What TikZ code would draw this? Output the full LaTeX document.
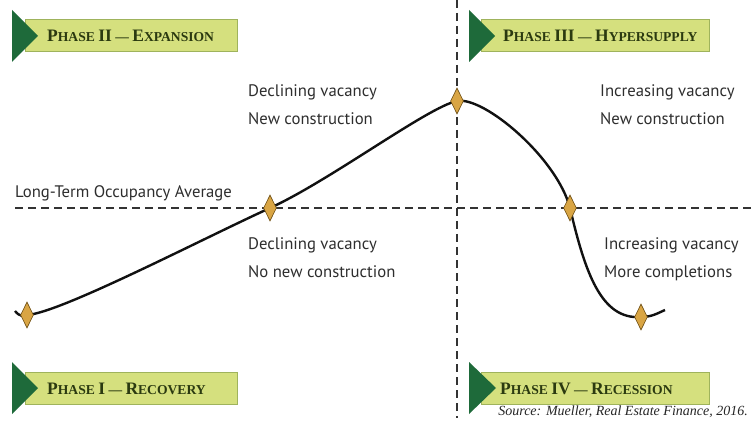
\documentclass[tikz,border=0pt]{standalone}
\usepackage{fontspec}
\usetikzlibrary{shapes.geometric}
\setmainfont{Liberation Serif}
\newfontfamily\labelfont{PT Sans}
\newfontfamily\phasefont{Liberation Serif}
\definecolor{bannerfill}{HTML}{D5E07E}
\definecolor{bannerline}{HTML}{9FB35C}
\definecolor{arrowgreen}{HTML}{1E6A3A}
\definecolor{phasetext}{HTML}{2B3A10}
\definecolor{diamondfill}{HTML}{D9A544}
\definecolor{diamondline}{HTML}{6B4C12}
\definecolor{labeltext}{HTML}{2E2E2E}
\definecolor{curvecol}{HTML}{111111}
\newcommand{\phcap}[1]{{\fontsize{17.5}{17}\selectfont #1}}
\tikzset{
  bannerbox/.style={rectangle, draw=bannerline, line width=1pt, fill=bannerfill,
    minimum height=32pt, minimum width=#1, inner sep=0pt, anchor=west},
  phasetitle/.style={anchor=base west, inner sep=0pt,
    font=\phasefont\bfseries\fontsize{13.6}{14}\selectfont, text=phasetext},
  tri/.style={fill=arrowgreen},
  lbl/.style={anchor=base west, inner sep=0pt, text=labeltext,
    font=\labelfont\fontsize{16.7}{18}\selectfont},
  dmd/.style={diamond, draw=diamondline, line width=0.6pt, fill=diamondfill,
    minimum width=13pt, minimum height=26pt, inner sep=0pt},
  avgline/.style={dashed, dash pattern=on 8pt off 5pt, line width=1.8pt, draw=black!80},
  cyclecurve/.style={line width=2.4pt, draw=curvecol}
}
\begin{document}
\begin{tikzpicture}[x=1pt, y=-1pt]
\useasboundingbox (0,0) rectangle (753,433);
\fill[white] (0,0) rectangle (753,433);

% dashed reference lines
\coordinate (hl) at (15,208);
\coordinate (hr) at (752,208);
\coordinate (vt) at (457,0);
\coordinate (vb) at (457,418);
\draw[avgline] (hl) -- (hr);
\draw[avgline] (vt) -- (vb);

% curve anchor points
\coordinate (s) at (15,311);
\coordinate (e) at (665,310);
\coordinate (p1) at (27,315);
\coordinate (p2) at (270,208);
\coordinate (p3) at (457,101);
\coordinate (p4) at (570,208);
\coordinate (p5) at (641,317);

\draw[cyclecurve]
  (s) .. controls (20,317) and (23,316) .. (p1)
      .. controls (60,313) and (200,240) .. (p2)
      .. controls (330,180.6) and (428,107) .. (p3)
      .. controls (484,96) and (557,158) .. (p4)
      .. controls (585,272) and (601,320) .. (p5)
      .. controls (652,317) and (658,313) .. (e);

\node[dmd] (d1) at (p1) {};
\node[dmd] (d2) at (p2) {};
\node[dmd] (d3) at (p3) {};
\node[dmd] (d4) at (p4) {};
\node[dmd] (d5) at (p5) {};

% labels
\node[lbl] (t1) at (248,97) {Declining vacancy};
\node[lbl] (t2) at (248,125) {New construction};
\node[lbl] (t3) at (600,97) {Increasing vacancy};
\node[lbl] (t4) at (600,125) {New construction};
\node[lbl] (t5) at (15,197) {Long-Term Occupancy Average};
\node[lbl] (t6) at (248,249) {Declining vacancy};
\node[lbl] (t7) at (248,277) {No new construction};
\node[lbl] (t8) at (604,249) {Increasing vacancy};
\node[lbl] (t9) at (604,277) {More completions};

% banners
\node[bannerbox=212pt] (b2) at (25,36) {};
\fill[tri] (12,10) -- (38,36) -- (12,62) -- cycle;
\node[phasetitle] (b2t) at (47,42) {\phcap{P}HASE \phcap{II} — \phcap{E}XPANSION};

\node[bannerbox=228pt] (b3) at (481,36) {};
\fill[tri] (469,10) -- (495,36) -- (469,62) -- cycle;
\node[phasetitle] (b3t) at (503,42) {\phcap{P}HASE \phcap{III} — \phcap{H}YPERSUPPLY};

\node[bannerbox=212pt] (b1) at (25,388) {};
\fill[tri] (12,362) -- (38,388) -- (12,414) -- cycle;
\node[phasetitle] (b1t) at (47,394) {\phcap{P}HASE \phcap{I} — \phcap{R}ECOVERY};

\node[bannerbox=228pt] (b4) at (481,388) {};
\fill[tri] (469,362) -- (496,388) -- (469,414) -- cycle;
\node[phasetitle] (b4t) at (500,394) {\phcap{P}HASE \phcap{IV} — \phcap{R}ECESSION};

% source
\node[anchor=base east, inner sep=0pt, font=\itshape\fontsize{14}{16}\selectfont, text=black!85] (src) at (748,415) {Source: Mueller, Real Estate Finance, 2016.};
\end{tikzpicture}
\end{document}
